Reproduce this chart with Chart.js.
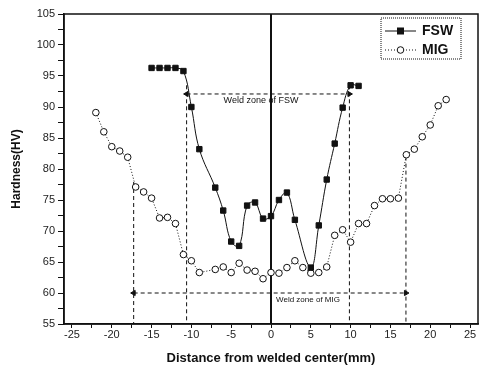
<!DOCTYPE html>
<html>
<head>
<meta charset="utf-8">
<script src="https://cdn.jsdelivr.net/npm/chart.js@4"></script>
<style>
  html, body { margin: 0; padding: 0; background: #fff; }
  #wrap { width: 486px; height: 372px; }
</style>
</head>
<body>
<div id="wrap"><canvas id="hardnessChart" width="486" height="372"></canvas></div>
<script>
// hardness profile across the weld
var fswX = [-15, -14, -13, -12, -11, -10, -9, -7, -6, -5, -4, -3, -2, -1, 0, 1, 2, 3, 5, 6, 7, 8, 9, 10, 11];
var fswHV = [96.3, 96.3, 96.3, 96.3, 95.8, 90.0, 83.2, 77.0, 73.3, 68.3, 67.6, 74.1, 74.6, 72.0, 72.4, 75.0, 76.2, 71.8, 64.1, 70.9, 78.3, 84.1, 89.9, 93.5, 93.4];

var migX = [-22, -21, -20, -19, -18, -17, -16, -15, -14, -13, -12, -11, -10, -9, -7, -6, -5, -4, -3, -2, -1, 0, 1, 2, 3, 4, 5, 6, 7, 8, 9, 10, 11, 12, 13, 14, 15, 16, 17, 18, 19, 20, 21, 22];
var migHV = [89.1, 86.0, 83.6, 82.9, 81.9, 77.1, 76.3, 75.3, 72.1, 72.2, 71.2, 66.2, 65.2, 63.3, 63.8, 64.2, 63.3, 64.8, 63.7, 63.5, 62.3, 63.3, 63.2, 64.1, 65.2, 64.1, 63.2, 63.3, 64.2, 69.3, 70.2, 68.2, 71.2, 71.2, 74.1, 75.2, 75.2, 75.3, 82.3, 83.2, 85.2, 87.1, 90.2, 91.2];

// weld zone limits (mm) and where the marker lines sit (HV)
var fswZone = [-10.6, 9.85];
var fswZoneTop = [93.5, 93.5];
var fswZoneArrowY = 92.1;
var migZone = [-17.25, 16.95];
var migZoneTop = [77.9, 82.0];
var migZoneArrowY = 60.0;

var xTicks = [-25, -22.5, -20, -17.5, -15, -12.5, -10, -7.5, -5, -2.5, 0, 2.5, 5, 7.5, 10, 12.5, 15, 17.5, 20, 22.5, 25];
var yTicks = [55, 57.5, 60, 62.5, 65, 67.5, 70, 72.5, 75, 77.5, 80, 82.5, 85, 87.5, 90, 92.5, 95, 97.5, 100, 102.5, 105];

var ink = '#111';

function pts(xs, ys) {
    return xs.map(function (x, i) { return { x: x, y: ys[i] }; });
}

function vline(x, top, dash, width) {
    return {
        data: [{ x: x, y: top }, { x: x, y: 55 }],
        showLine: true,
        borderColor: ink,
        borderWidth: width,
        borderDash: dash,
        pointRadius: 0
    };
}

function arrow(xs, y) {
    return {
        data: [{ x: xs[0], y: y }, { x: xs[1], y: y }],
        showLine: true,
        borderColor: ink,
        borderWidth: 1,
        borderDash: [4, 3],
        pointStyle: 'triangle',
        pointRotation: [-90, 90],
        pointRadius: 3,
        backgroundColor: ink,
        pointBorderColor: ink
    };
}

// box round the plot + weld zone notes + legend
var decor = {
    id: 'decor',
    afterDraw: function (chart) {
        var c = chart.ctx, a = chart.chartArea;
        var ys = chart.scales.y;
        c.save();
        c.strokeStyle = ink;
        c.lineWidth = 1.5;
        c.strokeRect(a.left, a.top, a.right - a.left, a.bottom - a.top);

        c.fillStyle = ink;
        c.textAlign = 'center';
        c.textBaseline = 'middle';
        c.font = '9px "Liberation Sans"';
        c.fillText('Weld zone of FSW', 261, ys.getPixelForValue(fswZoneArrowY) + 7);
        c.font = '8px "Liberation Sans"';
        c.fillText('Weld zone of MIG', 308, ys.getPixelForValue(migZoneArrowY) + 7);

        // legend
        var lx = 381, ly = 18, lw = 80, lh = 41;
        c.fillStyle = '#fff';
        c.fillRect(lx, ly, lw, lh);
        c.lineWidth = 1;
        c.setLineDash([1, 1]);
        c.strokeRect(lx, ly, lw, lh);
        c.setLineDash([]);

        c.beginPath();
        c.moveTo(385, 31); c.lineTo(416, 31);
        c.stroke();
        c.fillStyle = ink;
        c.fillRect(397, 27.5, 7, 7);

        c.setLineDash([1, 2]);
        c.beginPath();
        c.moveTo(385, 50); c.lineTo(416, 50);
        c.stroke();
        c.setLineDash([]);
        c.beginPath();
        c.arc(400.5, 50, 3.3, 0, Math.PI * 2);
        c.fillStyle = '#fff';
        c.fill();
        c.stroke();

        c.fillStyle = ink;
        c.textAlign = 'left';
        c.font = 'bold 14px "Liberation Sans"';
        c.fillText('FSW', 422, 31);
        c.fillText('MIG', 422, 50);
        c.restore();
    }
};

var ctx = document.getElementById('hardnessChart');

var myChart = new Chart(ctx, {
    type: 'scatter',
    data: {
        datasets: [{
            label: 'FSW',
            data: pts(fswX, fswHV),
            showLine: true,
            tension: 0.4,
            borderColor: ink,
            borderWidth: 1,
            pointStyle: 'rect',
            pointRadius: 3.8,
            pointBackgroundColor: ink,
            pointBorderColor: ink
        }, {
            label: 'MIG',
            data: pts(migX, migHV),
            showLine: true,
            borderColor: ink,
            borderWidth: 1,
            borderDash: [1, 2],
            pointStyle: 'circle',
            pointRadius: 3.3,
            pointBackgroundColor: '#fff',
            pointBorderColor: ink,
            pointBorderWidth: 1
        },
        vline(0, 105, [], 2),
        vline(fswZone[0], fswZoneTop[0], [4, 3], 1),
        vline(fswZone[1], fswZoneTop[1], [4, 3], 1),
        vline(migZone[0], migZoneTop[0], [4, 3], 1),
        vline(migZone[1], migZoneTop[1], [4, 3], 1),
        arrow(fswZone, fswZoneArrowY),
        arrow(migZone, migZoneArrowY)
        ]
    },
    options: {
        responsive: false,
        animation: false,
        layout: { padding: { top: 14, right: 8, left: 0, bottom: 0 } },
        plugins: {
            legend: { display: false },
            tooltip: { enabled: false }
        },
        scales: {
            x: {
                type: 'linear',
                min: -26,
                max: 26,
                afterBuildTicks: function (scale) {
                    scale.ticks = xTicks.map(function (v) { return { value: v }; });
                },
                afterFit: function (scale) { scale.height = 48; },
                ticks: {
                    color: '#222',
                    font: { family: 'Liberation Sans', size: 11 },
                    padding: 0,
                    maxRotation: 0,
                    autoSkip: false,
                    callback: function (v) { return v % 5 === 0 ? v : ''; }
                },
                grid: { drawOnChartArea: false, drawTicks: true, tickLength: 4, color: ink },
                border: { color: ink, width: 1.5 },
                title: {
                    display: true,
                    text: 'Distance from welded center(mm)',
                    color: ink,
                    font: { family: 'Liberation Sans', size: 13, weight: 'bold' },
                    padding: { top: 0, bottom: 6 }
                }
            },
            y: {
                type: 'linear',
                min: 55,
                max: 105,
                afterBuildTicks: function (scale) {
                    scale.ticks = yTicks.map(function (v) { return { value: v }; });
                },
                afterFit: function (scale) { scale.width = 64; },
                ticks: {
                    color: '#222',
                    font: { family: 'Liberation Sans', size: 11 },
                    padding: 3,
                    autoSkip: false,
                    callback: function (v) { return v % 5 === 0 ? v : ''; }
                },
                grid: { drawOnChartArea: false, drawTicks: true, tickLength: 6, color: ink },
                border: { color: ink, width: 1.5 },
                title: {
                    display: true,
                    text: 'Hardness(HV)',
                    color: ink,
                    font: { family: 'Liberation Sans', size: 12, weight: 'bold' },
                    padding: { top: 9, bottom: 0 }
                }
            }
        }
    },
    plugins: [decor]
});
</script>
</body>
</html>
